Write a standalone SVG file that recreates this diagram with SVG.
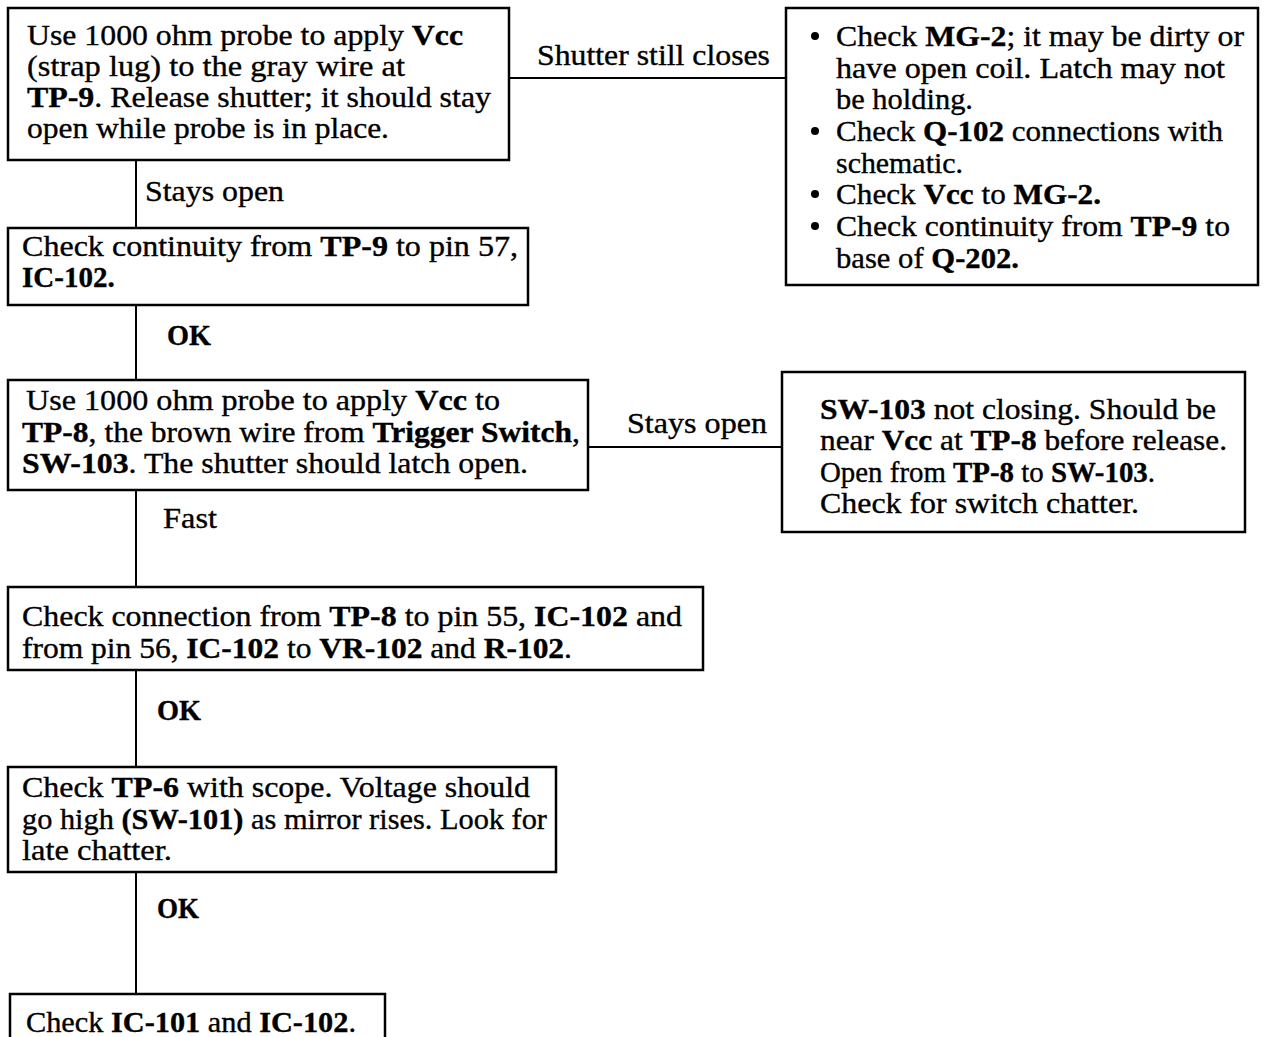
<svg xmlns="http://www.w3.org/2000/svg" width="1269" height="1037" viewBox="0 0 1269 1037">
  <style>
    .box { fill: #fff; stroke: #000; stroke-width: 2.5; }
    .wire { fill: none; stroke: #000; stroke-width: 2; }
    text { font-family: "Liberation Serif", "Times New Roman", serif; font-size: 29px; fill: #000; stroke: #000; stroke-width: 0.35; }
    .b { font-weight: bold; }
  </style>
  <rect width="1269" height="1037" fill="#fff"/>

  <!-- connectors and their labels -->
  <g id="connectors">
    <line class="wire" x1="136" y1="160" x2="136" y2="228"/>
    <line class="wire" x1="509" y1="78" x2="786" y2="78"/>
    <line class="wire" x1="136" y1="305" x2="136" y2="380"/>
    <line class="wire" x1="588" y1="447" x2="782" y2="447"/>
    <line class="wire" x1="136" y1="490" x2="136" y2="587"/>
    <line class="wire" x1="136" y1="670" x2="136" y2="767"/>
    <line class="wire" x1="136" y1="872" x2="136" y2="994"/>
    <text x="537" y="65" textLength="233" lengthAdjust="spacingAndGlyphs">Shutter still closes</text>
    <text x="145" y="201" textLength="139" lengthAdjust="spacingAndGlyphs">Stays open</text>
    <text x="167" y="345" class="b" textLength="44" lengthAdjust="spacingAndGlyphs">OK</text>
    <text x="627" y="433" textLength="140" lengthAdjust="spacingAndGlyphs">Stays open</text>
    <text x="163" y="528" textLength="54" lengthAdjust="spacingAndGlyphs">Fast</text>
    <text x="157" y="720" class="b" textLength="44" lengthAdjust="spacingAndGlyphs">OK</text>
    <text x="157" y="918" class="b" textLength="42" lengthAdjust="spacingAndGlyphs">OK</text>
  </g>

  <!-- step 1: probe TP-9 -->
  <g id="n1">
    <rect class="box" x="8" y="8" width="501" height="152"/>
    <text x="27" y="45" textLength="436" lengthAdjust="spacingAndGlyphs">Use 1000 ohm probe to apply <tspan class="b">Vcc</tspan></text>
    <text x="27" y="76" textLength="378" lengthAdjust="spacingAndGlyphs">(strap lug) to the gray wire at</text>
    <text x="27" y="107" textLength="464" lengthAdjust="spacingAndGlyphs"><tspan class="b">TP-9</tspan>. Release shutter; it should stay</text>
    <text x="27" y="138" textLength="362" lengthAdjust="spacingAndGlyphs">open while probe is in place.</text>
  </g>

  <!-- result: shutter still closes -->
  <g id="n1a">
    <rect class="box" x="786" y="8" width="472" height="277"/>
    <circle cx="815" cy="36" r="4"/>
    <circle cx="815" cy="131" r="4"/>
    <circle cx="815" cy="194" r="4"/>
    <circle cx="815" cy="226" r="4"/>
    <text x="836" y="46" textLength="408" lengthAdjust="spacingAndGlyphs">Check <tspan class="b">MG-2</tspan>; it may be dirty or</text>
    <text x="836" y="78" textLength="389" lengthAdjust="spacingAndGlyphs">have open coil. Latch may not</text>
    <text x="836" y="109" textLength="137" lengthAdjust="spacingAndGlyphs">be holding.</text>
    <text x="836" y="141" textLength="387" lengthAdjust="spacingAndGlyphs">Check <tspan class="b">Q-102</tspan> connections with</text>
    <text x="836" y="173" textLength="127" lengthAdjust="spacingAndGlyphs">schematic.</text>
    <text x="836" y="204" textLength="265" lengthAdjust="spacingAndGlyphs">Check <tspan class="b">Vcc</tspan> to <tspan class="b">MG-2.</tspan></text>
    <text x="836" y="236" textLength="394" lengthAdjust="spacingAndGlyphs">Check continuity from <tspan class="b">TP-9</tspan> to</text>
    <text x="836" y="268" textLength="183" lengthAdjust="spacingAndGlyphs">base of <tspan class="b">Q-202.</tspan></text>
  </g>

  <!-- step 2: continuity TP-9 -->
  <g id="n2">
    <rect class="box" x="8" y="228" width="520" height="77"/>
    <text x="22" y="256" textLength="496" lengthAdjust="spacingAndGlyphs">Check continuity from <tspan class="b">TP-9</tspan> to pin 57,</text>
    <text x="22" y="287"><tspan class="b">IC-102.</tspan></text>
  </g>

  <!-- step 3: probe TP-8 -->
  <g id="n3">
    <rect class="box" x="8" y="380" width="580" height="110"/>
    <text x="26" y="410" textLength="474" lengthAdjust="spacingAndGlyphs">Use 1000 ohm probe to apply <tspan class="b">Vcc</tspan> to</text>
    <text x="22" y="442" textLength="558" lengthAdjust="spacingAndGlyphs"><tspan class="b">TP-8</tspan>, the brown wire from <tspan class="b">Trigger Switch</tspan>,</text>
    <text x="22" y="473" textLength="506" lengthAdjust="spacingAndGlyphs"><tspan class="b">SW-103</tspan>. The shutter should latch open.</text>
  </g>

  <!-- result: stays open -->
  <g id="n3a">
    <rect class="box" x="782" y="372" width="463" height="160"/>
    <text x="820" y="419" textLength="396" lengthAdjust="spacingAndGlyphs"><tspan class="b">SW-103</tspan> not closing. Should be</text>
    <text x="820" y="450" textLength="407" lengthAdjust="spacingAndGlyphs">near <tspan class="b">Vcc</tspan> at <tspan class="b">TP-8</tspan> before release.</text>
    <text x="820" y="482" textLength="335" lengthAdjust="spacingAndGlyphs">Open from <tspan class="b">TP-8</tspan> to <tspan class="b">SW-103</tspan>.</text>
    <text x="820" y="513" textLength="319" lengthAdjust="spacingAndGlyphs">Check for switch chatter.</text>
  </g>

  <!-- step 4: connection TP-8 -->
  <g id="n4">
    <rect class="box" x="8" y="587" width="695" height="83"/>
    <text x="22" y="626" textLength="660" lengthAdjust="spacingAndGlyphs">Check connection from <tspan class="b">TP-8</tspan> to pin 55, <tspan class="b">IC-102</tspan> and</text>
    <text x="22" y="658" textLength="550" lengthAdjust="spacingAndGlyphs">from pin 56, <tspan class="b">IC-102</tspan> to <tspan class="b">VR-102</tspan> and <tspan class="b">R-102</tspan>.</text>
  </g>

  <!-- step 5: scope TP-6 -->
  <g id="n5">
    <rect class="box" x="8" y="767" width="548" height="105"/>
    <text x="22" y="797" textLength="508" lengthAdjust="spacingAndGlyphs">Check <tspan class="b">TP-6</tspan> with scope. Voltage should</text>
    <text x="22" y="829" textLength="525" lengthAdjust="spacingAndGlyphs">go high <tspan class="b">(SW-101)</tspan> as mirror rises. Look for</text>
    <text x="22" y="860" textLength="150" lengthAdjust="spacingAndGlyphs">late chatter.</text>
  </g>

  <!-- step 6: ICs -->
  <g id="n6">
    <rect class="box" x="10" y="994" width="375" height="60"/>
    <text x="26" y="1032" textLength="330" lengthAdjust="spacingAndGlyphs">Check <tspan class="b">IC-101</tspan> and <tspan class="b">IC-102</tspan>.</text>
  </g>
</svg>
